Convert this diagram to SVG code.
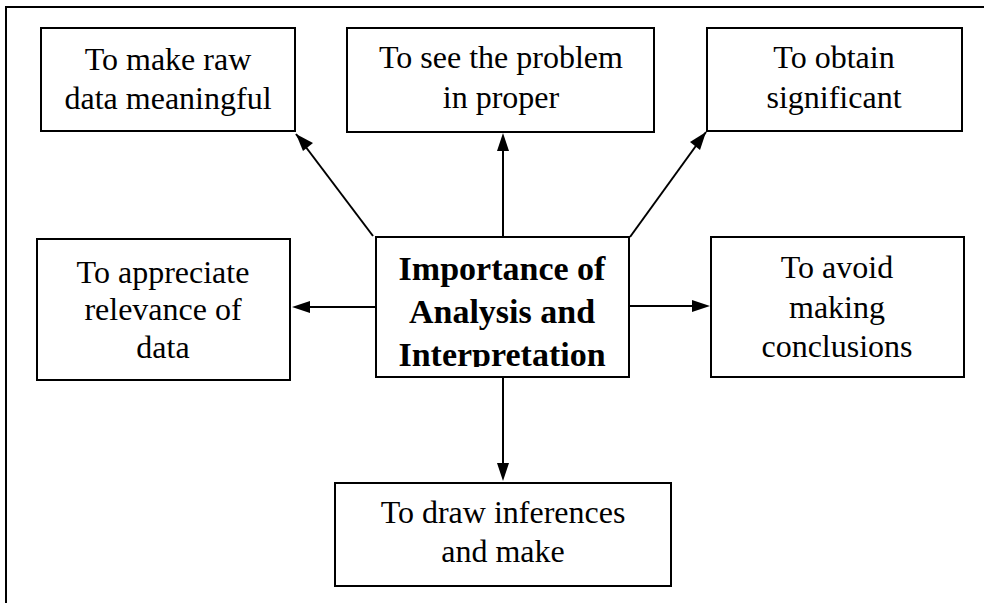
<svg xmlns="http://www.w3.org/2000/svg" width="984" height="603" viewBox="0 0 984 603">
<style>
.box{fill:#fff;stroke:#000;stroke-width:2}
.t{font-family:"Liberation Serif","Times New Roman",serif;font-size:32px;fill:#000;text-anchor:middle}
.b{font-family:"Liberation Serif","Times New Roman",serif;font-size:34px;font-weight:bold;fill:#000;text-anchor:middle}
.c{stroke:#000;stroke-width:2;fill:none;marker-end:url(#ah)}
</style>
<defs>
<marker id="ah" viewBox="0 0 10 10" refX="10" refY="5" markerWidth="7" markerHeight="7" markerUnits="userSpaceOnUse" orient="auto" style="overflow:visible">
<path d="M0,0 L10,5 L0,10 z" fill="#000" transform="scale(1.6)" />
</marker>
<clipPath id="cclip"><rect x="376" y="238" width="253" height="129"/></clipPath>
</defs>
<rect width="984" height="603" fill="#fff"/>
<path d="M6,603 V7 H984" fill="none" stroke="#000" stroke-width="2"/>
<g id="connectors">
<line x1="373" y1="236" x2="296" y2="134" stroke="#000" stroke-width="2"/>
<polygon points="296,134 313,143 303,151" fill="#000"/>
<line x1="503" y1="237" x2="503" y2="150" stroke="#000" stroke-width="2"/>
<polygon points="503,133 497,151 509,151" fill="#000"/>
<line x1="630" y1="237" x2="706" y2="132" stroke="#000" stroke-width="2"/>
<polygon points="706,132 700,150 690,142" fill="#000"/>
<line x1="375" y1="307" x2="308" y2="307" stroke="#000" stroke-width="2"/>
<polygon points="292,307 310,301 310,313" fill="#000"/>
<line x1="630" y1="306" x2="694" y2="306" stroke="#000" stroke-width="2"/>
<polygon points="710,306 692,300 692,312" fill="#000"/>
<line x1="503" y1="377" x2="503" y2="465" stroke="#000" stroke-width="2"/>
<polygon points="503,481 497,463 509,463" fill="#000"/>
</g>
<g id="n-raw">
<rect class="box" x="41" y="28" width="254" height="103"/>
<text class="t" x="168" y="70">To make raw</text>
<text class="t" x="168" y="109">data meaningful</text>
</g>
<g id="n-problem">
<rect class="box" x="347" y="28" width="307" height="104"/>
<text class="t" x="501" y="68">To see the problem</text>
<text class="t" x="501" y="108">in proper</text>
</g>
<g id="n-significant">
<rect class="box" x="707" y="28" width="255" height="103"/>
<text class="t" x="834" y="68">To obtain</text>
<text class="t" x="834" y="108">significant</text>
</g>
<g id="n-relevance">
<rect class="box" x="37" y="239" width="253" height="141"/>
<text class="t" x="163" y="283">To appreciate</text>
<text class="t" x="163" y="320">relevance of</text>
<text class="t" x="163" y="358">data</text>
</g>
<g id="n-center">
<rect class="box" x="376" y="237" width="253" height="140"/>
<g clip-path="url(#cclip)">
<text class="b" x="502" y="280">Importance of</text>
<text class="b" x="502" y="323">Analysis and</text>
<text class="b" x="502" y="366">Interpretation</text>
</g>
</g>
<g id="n-conclusions">
<rect class="box" x="711" y="237" width="253" height="140"/>
<text class="t" x="837" y="278">To avoid</text>
<text class="t" x="837" y="318">making</text>
<text class="t" x="837" y="357">conclusions</text>
</g>
<g id="n-inferences">
<rect class="box" x="335" y="483" width="336" height="103"/>
<text class="t" x="503" y="523">To draw inferences</text>
<text class="t" x="503" y="562">and make</text>
</g>
</svg>
